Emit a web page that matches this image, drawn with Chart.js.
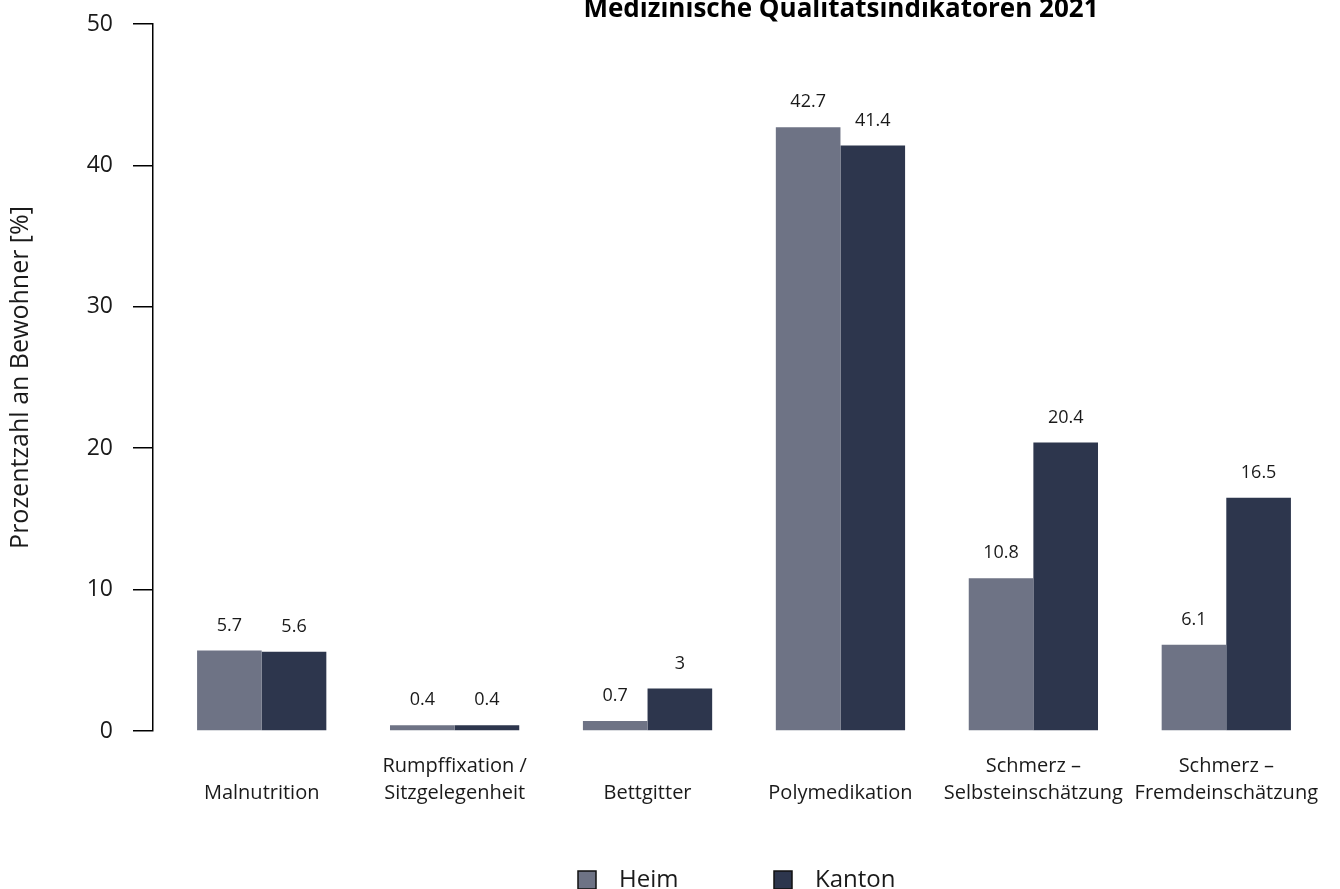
<!DOCTYPE html>
<html lang="de">
<head>
<meta charset="utf-8">
<title>Medizinische Qualitätsindikatoren 2021</title>
<script src="https://cdn.jsdelivr.net/npm/chart.js@4.4.1/dist/chart.umd.min.js"></script>
<style>
  html, body { margin: 0; padding: 0; background: #fff; }
</style>
</head>
<body>
<canvas id="qiChart" width="1340" height="889"></canvas>
<script>
// indicator names, two lines each (single-line names sit on the lower line)
const indicators = [
  ["", "Malnutrition"],
  ["Rumpffixation /", "Sitzgelegenheit"],
  ["", "Bettgitter"],
  ["", "Polymedikation"],
  ["Schmerz –", "Selbsteinschätzung"],
  ["Schmerz –", "Fremdeinschätzung"],
]
const heimValues = [5.7, 0.4, 0.7, 42.7, 10.8, 6.1]
const kantonValues = [5.6, 0.4, 3, 41.4, 20.4, 16.5]
const yTicks = [0, 10, 20, 30, 40, 50]

const FONT = '"Open Sans", "Noto Sans", sans-serif'
const TEXT = "#1a1a1a"

// title sits partly above the canvas top, like the exported figure
const titlePlugin = {
  id: "titleText",
  afterDraw(chart) {
    const ctx = chart.ctx
    ctx.save()
    ctx.font = "bold 26px " + FONT
    ctx.fillStyle = "#000"
    ctx.textAlign = "center"
    ctx.textBaseline = "alphabetic"
    ctx.fillText("Medizinische Qualitätsindikatoren 2021", 841, 17)
    ctx.restore()
  },
}

// value printed above every bar
const valueLabels = {
  id: "valueLabels",
  afterDatasetsDraw(chart) {
    const ctx = chart.ctx
    ctx.save()
    ctx.font = "18px " + FONT
    ctx.fillStyle = TEXT
    ctx.textAlign = "center"
    ctx.textBaseline = "middle"
    chart.data.datasets.forEach((ds, di) => {
      chart.getDatasetMeta(di).data.forEach((bar, i) => {
        ctx.fillText(String(ds.data[i].y), bar.x, bar.y - 25)
      })
    })
    ctx.restore()
  },
}

// square boxes with a dark outline, wide spacing between entries
const boxLegend = {
  id: "boxLegend",
  afterDraw(chart) {
    const ctx = chart.ctx
    const startX = 578
    const slot = 196
    const cy = 880
    ctx.save()
    ctx.font = "24px " + FONT
    ctx.textBaseline = "middle"
    ctx.textAlign = "left"
    chart.data.datasets.forEach((ds, i) => {
      const x = startX + i * slot
      ctx.fillStyle = ds.backgroundColor
      ctx.fillRect(x, cy - 9, 18, 18)
      ctx.strokeStyle = "#111"
      ctx.lineWidth = 1.5
      ctx.strokeRect(x, cy - 9, 18, 18)
      ctx.fillStyle = TEXT
      ctx.fillText(ds.label, x + 41, cy)
    })
    ctx.restore()
  },
}

new Chart(document.getElementById("qiChart"), {
  type: "bar",
  data: {
    datasets: [
      {
        label: "Heim",
        data: heimValues.map((v, i) => ({ x: i, y: v })),
        backgroundColor: "#6e7385",
        categoryPercentage: 0.67,
        barPercentage: 1,
      },
      {
        label: "Kanton",
        data: kantonValues.map((v, i) => ({ x: i, y: v })),
        backgroundColor: "#2d364d",
        categoryPercentage: 0.67,
        barPercentage: 1,
      },
    ],
  },
  options: {
    responsive: false,
    animation: false,
    layout: { padding: { top: 24, right: 0, bottom: 58, left: 0 } },
    plugins: {
      legend: { display: false },
      tooltip: { enabled: false },
    },
    scales: {
      x: {
        type: "linear",
        offset: false,
        min: -0.5635,
        max: 5.462,
        afterBuildTicks: (s) => {
          s.ticks = indicators.map((_, i) => ({ value: i }))
        },
        afterFit: (s) => {
          s.height = 100
        },
        ticks: {
          autoSkip: false,
          maxRotation: 0,
          padding: 22,
          color: TEXT,
          font: { family: FONT, size: 20, lineHeight: 1.35 },
          callback: (v) => indicators[v],
        },
        grid: { display: false, drawTicks: false },
        border: { display: false },
      },
      y: {
        min: 0,
        max: 50,
        afterBuildTicks: (s) => {
          s.ticks = yTicks.map((v) => ({ value: v }))
        },
        afterFit: (s) => {
          s.width = 153
          // the label padding should not push the plot area down
          s.paddingTop = 0
          s.paddingBottom = 0
        },
        ticks: {
          padding: 20,
          color: TEXT,
          font: { family: FONT, size: 23 },
        },
        grid: {
          drawOnChartArea: false,
          tickLength: 20,
          color: "#000",
          lineWidth: 1.5,
        },
        border: { display: true, color: "#000", width: 1.5 },
        title: {
          display: true,
          text: "Prozentzahl an Bewohner [%]",
          color: TEXT,
          font: { family: FONT, size: 25 },
          padding: { top: 6, bottom: 0 },
        },
      },
    },
  },
  plugins: [titlePlugin, valueLabels, boxLegend],
})
</script>
</body>
</html>
